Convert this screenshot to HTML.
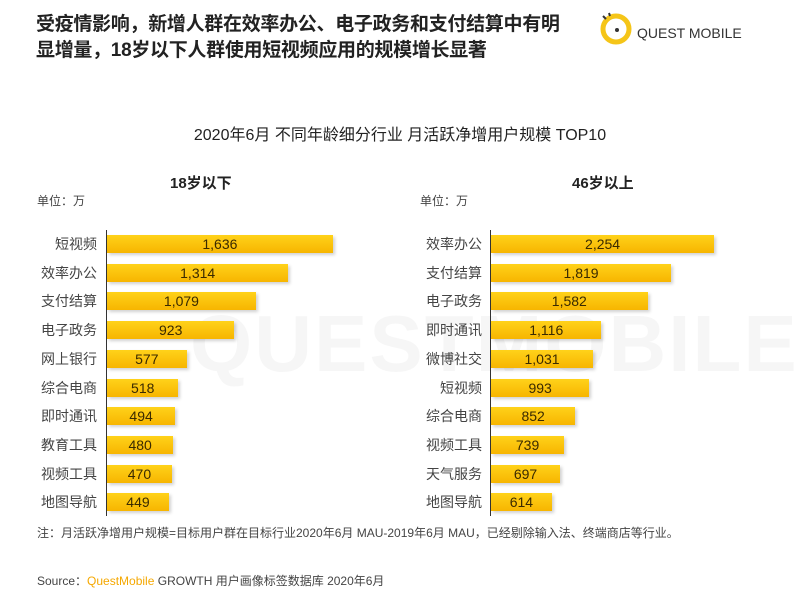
<!DOCTYPE html>
<html><head><meta charset="utf-8"><style>
*{margin:0;padding:0;box-sizing:border-box}
body{width:800px;height:600px;background:#fff;position:relative;overflow:hidden;font-family:"Liberation Sans","Noto Sans CJK SC",sans-serif;color:#333}
.a{position:absolute;white-space:nowrap}
.bar{position:absolute;height:18px;background:linear-gradient(#ffd21a,#f7b500);box-shadow:2px 2px 3px rgba(0,0,0,0.18);font-size:14px;color:#3a2a00;text-align:center;line-height:18px}
.lab{position:absolute;font-size:14px;color:#444;text-align:right;width:80px;line-height:18px}
.ax{position:absolute;width:1px;background:#333}
</style></head><body>
<div class="a" style="left:36px;top:12px;font-size:19px;font-weight:bold;color:#222;line-height:26px;letter-spacing:-0.3px">受疫情影响，新增人群在效率办公、电子政务和支付结算中有明<br>显增量，18岁以下人群使用短视频应用的规模增长显著</div>
<svg class="a" style="left:596px;top:10px" width="40" height="38" viewBox="0 0 40 38"><circle cx="20" cy="19" r="13" fill="none" stroke="#f5c518" stroke-width="5"/><circle cx="21" cy="20" r="2" fill="#333"/><path d="M10 9 l-3 -3 M14 6 l-1 -3" stroke="#333" stroke-width="2"/></svg>
<div class="a" style="left:637px;top:25px;font-size:14px;color:#333">QUEST MOBILE</div>
<div class="a" style="left:0;width:800px;text-align:center;top:121px;font-size:16px;color:#222">2020年6月 不同年龄细分行业 月活跃净增用户规模 TOP10</div>
<div class="a" style="left:170px;top:172px;font-size:15px;font-weight:bold;color:#222">18岁以下</div>
<div class="a" style="left:572px;top:172px;font-size:15px;font-weight:bold;color:#222">46岁以上</div>
<div class="a" style="left:37px;top:192px;font-size:12px;color:#444">单位：万</div>
<div class="a" style="left:420px;top:192px;font-size:12px;color:#444">单位：万</div>
<div class="a" style="left:190px;top:298px;font-size:80px;color:rgba(0,0,0,0.035);font-weight:bold;letter-spacing:2px">QUESTMOBILE</div>
<div class="ax" style="left:106px;top:230px;height:286px"></div>
<div class="ax" style="left:490px;top:230px;height:286px"></div>
<div id="c"></div>
<div class="a" style="left:37px;top:524px;font-size:12px;color:#444">注：月活跃净增用户规模=目标用户群在目标行业2020年6月 MAU-2019年6月 MAU，已经剔除输入法、终端商店等行业。</div>
<div class="a" style="left:37px;top:572px;font-size:12px;color:#444">Source：<span style="color:#f5a800">QuestMobile</span> GROWTH 用户画像标签数据库 2020年6月</div>
<script>
var L=[["短视频",1636],["效率办公",1314],["支付结算",1079],["电子政务",923],["网上银行",577],["综合电商",518],["即时通讯",494],["教育工具",480],["视频工具",470],["地图导航",449]];
var R=[["效率办公",2254],["支付结算",1819],["电子政务",1582],["即时通讯",1116],["微博社交",1031],["短视频",993],["综合电商",852],["视频工具",739],["天气服务",697],["地图导航",614]];
var h="";
function f(n){return n.toLocaleString("en-US")}
L.forEach(function(d,i){var y=235+i*28.7;h+='<div class="lab" style="left:17px;top:'+y+'px">'+d[0]+'</div><div class="bar" style="left:107px;top:'+y+'px;width:'+(d[1]*0.138)+'px">'+f(d[1])+'</div>'});
R.forEach(function(d,i){var y=235+i*28.7;h+='<div class="lab" style="left:402px;top:'+y+'px">'+d[0]+'</div><div class="bar" style="left:491px;top:'+y+'px;width:'+(d[1]*0.099)+'px">'+f(d[1])+'</div>'});
document.getElementById("c").innerHTML=h;
</script>
</body></html>
